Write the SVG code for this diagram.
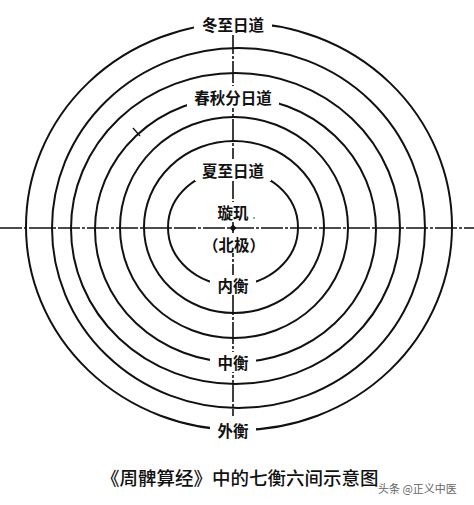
<svg xmlns="http://www.w3.org/2000/svg" width="474" height="505" viewBox="0 0 474 505">
<style>
.c{fill:none;stroke:#111;stroke-width:2}
.ax{stroke:#111;stroke-width:1.6;stroke-dasharray:22 2 3 2}
.lb{font-family:"Noto Sans CJK SC","Noto Sans",sans-serif;font-size:15.5px;font-weight:bold;fill:#111;text-anchor:middle;dominant-baseline:central}
.bg{fill:#fff}
</style>
<rect width="474" height="505" fill="#fff"/>
<g id="axes">
<line class="ax" x1="0" y1="228" x2="474" y2="228"/>
<line class="ax" x1="233" y1="32" x2="233" y2="416"/>
</g>
<g id="circles">
<ellipse id="c1" class="c" cx="233" cy="227.5" rx="65" ry="57.5"/>
<ellipse id="c2" class="c" cx="234" cy="227" rx="90" ry="86"/>
<ellipse id="c3" class="c" cx="234" cy="227.5" rx="114" ry="110.5"/>
<ellipse id="c4" class="c" cx="235.5" cy="229.5" rx="140.5" ry="132.5"/>
<ellipse id="c5" class="c" cx="235.5" cy="228.5" rx="164.5" ry="155.5"/>
<ellipse id="c6" class="c" cx="238.5" cy="228" rx="186.5" ry="180"/>
<ellipse id="c7" class="c" cx="239" cy="226.5" rx="213" ry="203.5"/>
<line x1="133" y1="128" x2="140" y2="136" stroke="#111" stroke-width="1.4"/>
</g>
<g id="winter">
<rect class="bg" x="194" y="13" width="78" height="22"/>
<text class="lb" x="233" y="24">冬至日道</text>
</g>
<g id="equinox">
<rect class="bg" x="187" y="86" width="92" height="22"/>
<text class="lb" x="233" y="97">春秋分日道</text>
</g>
<g id="summer">
<rect class="bg" x="195" y="159" width="76" height="22"/>
<text class="lb" x="233" y="170">夏至日道</text>
</g>
<g id="center">
<rect class="bg" x="214" y="202" width="38" height="20"/>
<text class="lb" x="233" y="212">璇玑</text>
<circle cx="254" cy="218" r="0.8" fill="#333"/>
<path d="M233 224.5 L236.5 228 L233 231.5 L229.5 228 Z" fill="#111"/>
<rect class="bg" x="208" y="235" width="52" height="18"/>
<text class="lb" x="234" y="244">（北极）</text>
</g>
<g id="inner">
<rect class="bg" x="210" y="275" width="46" height="20"/>
<text class="lb" x="233" y="285">内衡</text>
</g>
<g id="middle">
<rect class="bg" x="210" y="352" width="46" height="20"/>
<text class="lb" x="233" y="362">中衡</text>
</g>
<g id="outer">
<rect class="bg" x="210" y="420" width="46" height="20"/>
<text class="lb" x="233" y="430">外衡</text>
</g>
<g id="caption">
<text x="101" y="477" font-family="'Noto Sans CJK SC','Noto Sans',sans-serif" font-size="18.5" font-weight="500" fill="#111" dominant-baseline="central">《周髀算经》中的七衡六间示意图</text>
<text x="378" y="488" font-family="'Noto Sans CJK SC','Noto Sans',sans-serif" font-size="11" fill="#666" dominant-baseline="central">头条 @正义中医</text>
</g>
</svg>
